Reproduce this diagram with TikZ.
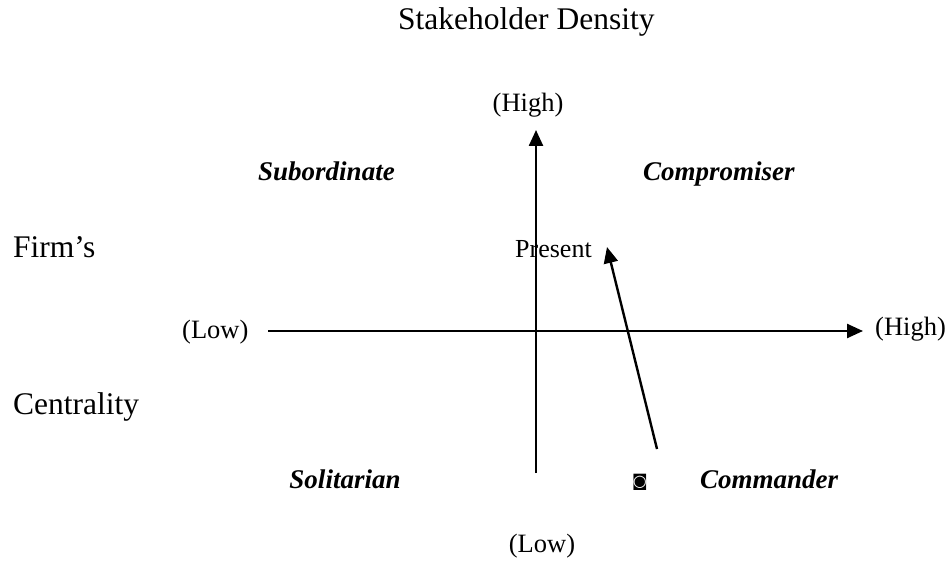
\documentclass[tikz,border=0pt]{standalone}
\usepackage{fontspec}
\setmainfont{Liberation Serif}
\newfontfamily\symfont{DejaVu Sans}
\usetikzlibrary{arrows.meta}
\begin{document}
\begin{tikzpicture}[x=1pt,y=-1pt,
  big/.style={inner sep=0pt,font=\fontsize{31.5}{36}\selectfont},
  small/.style={inner sep=0pt,font=\fontsize{26.5}{30}\selectfont},
  quad/.style={inner sep=0pt,font=\fontsize{27}{30}\selectfont\bfseries\itshape},
  axis/.style={line width=2.4pt,-{Triangle[length=16pt,width=14pt]}}]
\useasboundingbox (0,0) rectangle (949,569);
\node[big,anchor=base west] (title) at (398,30) {Stakeholder Density};
\node[big,anchor=base west] (firm) at (13,257) {Firm’s};
\node[big,anchor=base west] (cent) at (13,414) {Centrality};
\node[small,anchor=base west] (lowl) at (182,338) {(Low)};
\node[small,anchor=base west] (highr) at (875,335) {(High)};
\node[small,anchor=base] (hight) at (528,112) {(High)};
\node[small,anchor=base] (lowb) at (542,552) {(Low)};
\node[quad,anchor=base west] (sub) at (258,181) {Subordinate};
\node[quad,anchor=base west] (comp) at (643,181) {Compromiser};
\node[quad,anchor=base] (sol) at (345,488) {Solitarian};
\node[quad,anchor=base west] (comm) at (700,488) {Commander};
\node[inner sep=0pt,anchor=base west,font=\fontsize{26}{28}\selectfont] (pres) at (515,257) {Present};
\node[inner sep=0pt,font=\fontsize{16}{18}\selectfont\symfont] (sym) at (640,482) {◙};
\coordinate (hl) at (268,331);
\coordinate (hr) at (863,331);
\coordinate (vb) at (536,473);
\coordinate (vt) at (536,130);
\coordinate (ab) at (657,449);
\coordinate (at) at (607,247);
\draw[axis] (hl) -- (hr);
\draw[axis] (vb) -- (vt);
\draw[axis] (ab) -- (at);
\end{tikzpicture}
\end{document}
